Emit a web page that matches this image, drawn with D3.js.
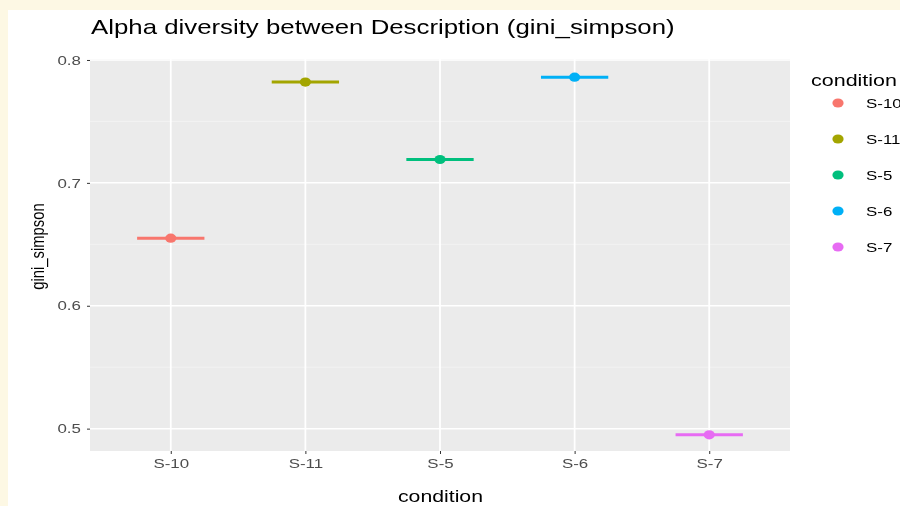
<!DOCTYPE html>
<html><head><meta charset="utf-8">
<script src="https://cdn.jsdelivr.net/npm/d3@7"></script>
<style>
html,body{margin:0;padding:0;background:#fdf8e4;}
svg{display:block;font-family:"Liberation Sans",Arial,sans-serif;filter:blur(0.35px);}
</style></head>
<body><svg id="c" width="900" height="506"></svg>
<script>
const categories = ["S-10","S-11","S-5","S-6","S-7"];
const values = [0.655, 0.782, 0.719, 0.786, 0.495];
const colors = ["#F8766D","#A3A500","#00BF7D","#00B0F6","#E76BF3"];
const yTicks = [0.5,0.6,0.7,0.8];
const yMinor = [0.55,0.65,0.75];

const SX = 1.3; // horizontal stretch of the reference image

const svg = d3.select("#c");
svg.append("rect").attr("x",8).attr("y",10).attr("width",900).attr("height",500).attr("fill","#ffffff");

const m = {l:90, t:59, r:790, b:451};
const x = d3.scalePoint().domain(categories).range([m.l,m.r]).padding(0.6);
const y = d3.scaleLinear().domain([0.4818,0.8008]).range([m.b,m.t]);

svg.append("rect").attr("x",m.l).attr("y",m.t).attr("width",m.r-m.l).attr("height",m.b-m.t).attr("fill","#ebebeb");
const g = svg.append("g");
g.selectAll(".minor").data(yMinor).join("line")
  .attr("x1",m.l).attr("x2",m.r).attr("y1",d=>y(d)).attr("y2",d=>y(d))
  .attr("stroke","#f4f4f4").attr("stroke-width",0.8);
g.selectAll(".major").data(yTicks).join("line")
  .attr("x1",m.l).attr("x2",m.r).attr("y1",d=>y(d)).attr("y2",d=>y(d))
  .attr("stroke","#ffffff").attr("stroke-width",1.5);
g.selectAll(".vmaj").data(categories).join("line")
  .attr("y1",m.t).attr("y2",m.b).attr("x1",d=>x(d)).attr("x2",d=>x(d))
  .attr("stroke","#ffffff").attr("stroke-width",1.8);

// axes
const yAxis = svg.append("g").attr("transform",`translate(${m.l},0)`)
  .call(d3.axisLeft(y).tickValues(yTicks).tickFormat(d3.format(".1f")).tickSize(3).tickPadding(4));
const xAxis = svg.append("g").attr("transform",`translate(0,${m.b})`)
  .call(d3.axisBottom(x).tickSize(3).tickPadding(5));
[yAxis,xAxis].forEach(a=>{
  a.select(".domain").remove();
  a.selectAll(".tick line").attr("stroke","#333333");
  a.selectAll(".tick text").attr("fill","#4d4d4d").attr("font-size",13)
   .attr("font-family","Liberation Sans, Arial, sans-serif")
   .attr("transform",`scale(${SX},1)`);
});

// crossbars
const bw = x.step()*0.5;
const marks = svg.append("g");
categories.forEach((c,i)=>{
  marks.append("line").attr("x1",x(c)-bw/2).attr("x2",x(c)+bw/2)
    .attr("y1",y(values[i])).attr("y2",y(values[i]))
    .attr("stroke",colors[i]).attr("stroke-width",3);
  marks.append("ellipse").attr("cx",x(c)).attr("cy",y(values[i])).attr("rx",5.6).attr("ry",4.6).attr("fill",colors[i]);
});

function stretched(parent, px, py, size, str, sx, anchor){
  return parent.append("text").attr("transform",`translate(${px},${py}) scale(${sx},1)`)
    .attr("font-size",size).attr("fill","#000").attr("text-anchor",anchor||"start").text(str);
}
function fitW(parent, px, py, size, str, width, anchor){
  const t = parent.append("text").attr("font-size",size).attr("text-anchor",anchor||"start").attr("fill","#000").text(str);
  const w = t.node().getComputedTextLength();
  t.attr("transform",`translate(${px},${py}) scale(${width/w},1)`);
  return t;
}

// titles
fitW(svg, 91, 34, 21, "Alpha diversity between Description (gini_simpson)", 584);
fitW(svg, 440.5, 502, 16, "condition", 85, "middle");
svg.append("text").attr("transform",`translate(44,${246.5}) rotate(-90) scale(1,${SX})`).attr("text-anchor","middle")
  .attr("font-size",14.8).attr("fill","#000").text("gini_simpson");

// legend
const lg = svg.append("g");
fitW(lg, 811, 86, 16, "condition", 86);
categories.forEach((c,i)=>{
  const yy = 103 + i*36;
  lg.append("ellipse").attr("cx",838).attr("cy",yy).attr("rx",5.6).attr("ry",4.6).attr("fill",colors[i]);
  stretched(lg, 866, yy+5, 13, c, SX);
});
</script></body></html>
